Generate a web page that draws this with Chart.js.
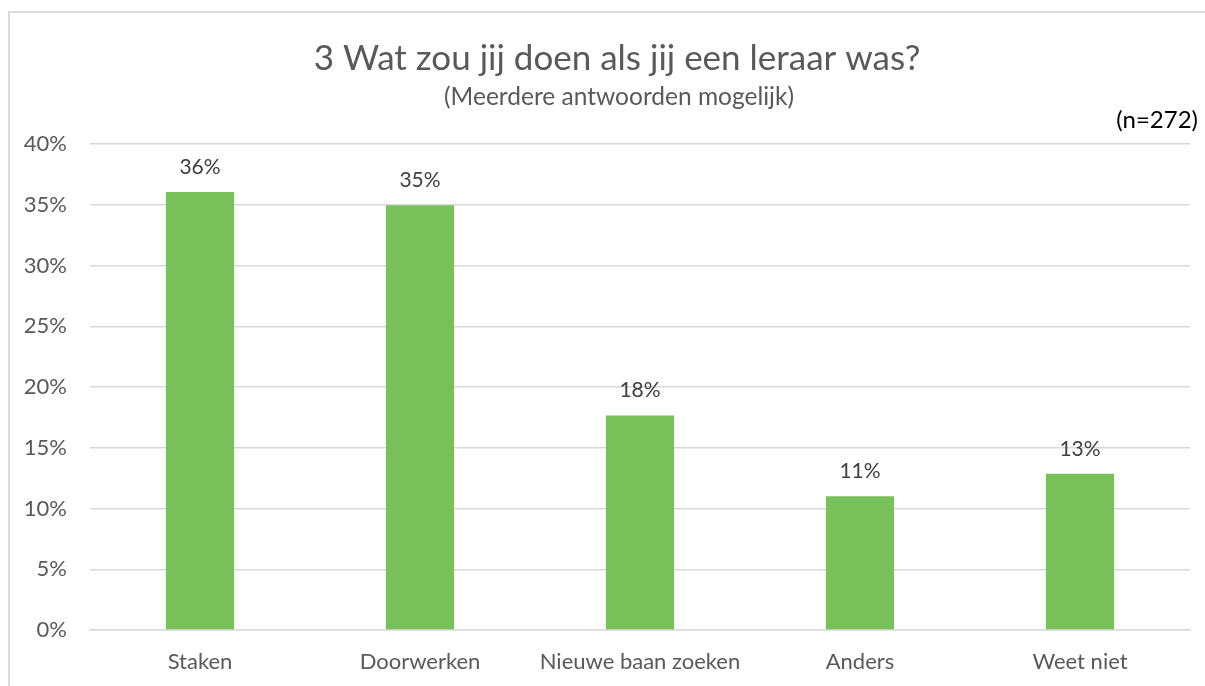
<!DOCTYPE html>
<html>
<head>
<meta charset="utf-8">
<script src="https://cdn.jsdelivr.net/npm/chart.js@4"></script>
<style>
html,body{margin:0;padding:0;background:#fff;overflow:hidden;}
#wrap{position:absolute;left:0;top:0;width:1205px;height:686px;}
#frame{position:absolute;left:8px;top:11px;width:1300px;height:800px;border-left:2px solid #d9d9d9;border-top:2px solid #d9d9d9;box-sizing:border-box;}
canvas{position:absolute;left:0;top:0;}
</style>
</head>
<body>
<div id="wrap">
<div id="frame"></div>
<canvas id="c" width="1205" height="686"></canvas>
</div>
<script>
const categories = ["Staken", "Doorwerken", "Nieuwe baan zoeken", "Anders", "Weet niet"];
const values = [36.05, 34.95, 17.65, 11.0, 12.85];
const yTicks = [0, 5, 10, 15, 20, 25, 30, 35, 40];
const titleText = "3 Wat zou jij doen als jij een leraar was?";
const subtitleText = "(Meerdere antwoorden mogelijk)";
const nText = "(n=272)";

const FONT = "Lato, 'Open Sans', sans-serif";

const textPlugin = {
  id: 'texts',
  afterDraw(chart) {
    const ctx = chart.ctx;
    ctx.save();
    ctx.textAlign = 'center';
    ctx.textBaseline = 'middle';
    ctx.fillStyle = '#595959';
    ctx.font = "35px " + FONT;
    ctx.fillText(titleText, 617, 59);
    ctx.font = "24.5px " + FONT;
    ctx.fillText(subtitleText, 619, 97);
    ctx.textAlign = 'right';
    ctx.fillStyle = '#000000';
    ctx.font = "24px " + FONT;
    ctx.fillText(nText, 1198, 120);
    // data labels
    const meta = chart.getDatasetMeta(0);
    ctx.textAlign = 'center';
    ctx.fillStyle = '#404040';
    ctx.font = "21px " + FONT;
    meta.data.forEach((bar, i) => {
      ctx.fillText(Math.round(values[i]) + '%', bar.x, bar.y - 25);
    });
    ctx.restore();
  }
};

new Chart(document.getElementById('c'), {
  type: 'bar',
  data: {
    labels: categories,
    datasets: [{
      data: values,
      backgroundColor: '#77c05a',
      borderWidth: 0,
      categoryPercentage: 1.0,
      barPercentage: 0.31
    }]
  },
  options: {
    responsive: false,
    animation: false,
    devicePixelRatio: 1,
    layout: { padding: { left: 0, right: 15, top: 144, bottom: 0 } },
    plugins: { legend: { display: false }, tooltip: { enabled: false }, title: { display: false } },
    scales: {
      y: {
        min: 0, max: 40,
        afterBuildTicks(scale) { scale.ticks = yTicks.map(v => ({ value: v })); },
        afterFit(scale) { scale.width = 90; },
        border: { display: false },
        grid: { color: '#d9d9d9', lineWidth: 1.5, drawTicks: false },
        ticks: {
          padding: 23,
          color: '#595959',
          font: { family: FONT, size: 22 },
          callback: v => v + '%'
        }
      },
      x: {
        afterFit(scale) { scale.height = 56; },
        border: { display: true, color: '#d9d9d9', width: 1.5 },
        grid: { display: false, drawTicks: false },
        ticks: {
          padding: 19,
          color: '#595959',
          font: { family: FONT, size: 22 },
          maxRotation: 0
        }
      }
    }
  },
  plugins: [textPlugin]
});
</script>
</body>
</html>
